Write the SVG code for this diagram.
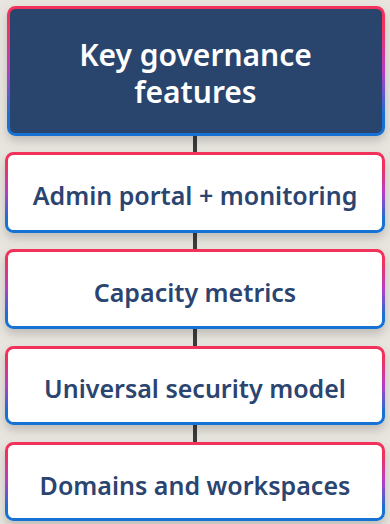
<svg xmlns="http://www.w3.org/2000/svg" width="390" height="524" viewBox="0 0 390 524">
<defs>
<linearGradient id="bord" x1="0" y1="0" x2="0" y2="1">
<stop offset="0" stop-color="#f2335a"/>
<stop offset="0.15" stop-color="#f2335a"/>
<stop offset="0.5" stop-color="#b53ec6"/>
<stop offset="0.85" stop-color="#1572d3"/>
<stop offset="1" stop-color="#1572d3"/>
</linearGradient>
<filter id="sh" x="-10%" y="-20%" width="120%" height="150%">
<feDropShadow dx="0" dy="5" stdDeviation="5" flood-color="#000" flood-opacity="0.18"/>
</filter>
</defs>
<style>
.card{fill:#ffffff;stroke:url(#bord);stroke-width:3;filter:url(#sh)}
.head{fill:#2c446d;stroke:url(#bord);stroke-width:3;filter:url(#sh)}
.lbl{font-family:"Noto Sans","Open Sans",sans-serif;font-weight:600;font-size:25px;fill:#2b4470;text-anchor:middle}
.ttl{font-family:"Noto Sans","Open Sans",sans-serif;font-weight:600;font-size:30px;fill:#ffffff;text-anchor:middle}
.conn{stroke:#3b3b3b;stroke-width:4;fill:none}
</style>
<rect width="390" height="524" fill="#e8e5df"/>
<g id="connectors">
<line class="conn" x1="195" y1="135" x2="195" y2="153"/>
<line class="conn" x1="195" y1="231" x2="195" y2="250"/>
<line class="conn" x1="195" y1="328" x2="195" y2="347"/>
<line class="conn" x1="195" y1="424" x2="195" y2="443"/>
</g>
<g id="title">
<rect class="head" x="8.5" y="7.5" width="375" height="127" rx="7"/>
<text class="ttl" x="195.5" y="66">Key governance</text>
<text class="ttl" x="195.5" y="103">features</text>
</g>
<g id="admin-portal">
<rect class="card" x="6.5" y="153.5" width="377" height="78" rx="7"/>
<text class="lbl" x="195" y="205">Admin portal + monitoring</text>
</g>
<g id="capacity-metrics">
<rect class="card" x="6.5" y="250.5" width="377" height="77" rx="7"/>
<text class="lbl" x="195" y="302">Capacity metrics</text>
</g>
<g id="security-model">
<rect class="card" x="6.5" y="347.5" width="377" height="76" rx="7"/>
<text class="lbl" x="195" y="398">Universal security model</text>
</g>
<g id="domains-workspaces">
<rect class="card" x="6.5" y="443.5" width="377" height="76" rx="7"/>
<text class="lbl" x="195" y="495">Domains and workspaces</text>
</g>
</svg>
